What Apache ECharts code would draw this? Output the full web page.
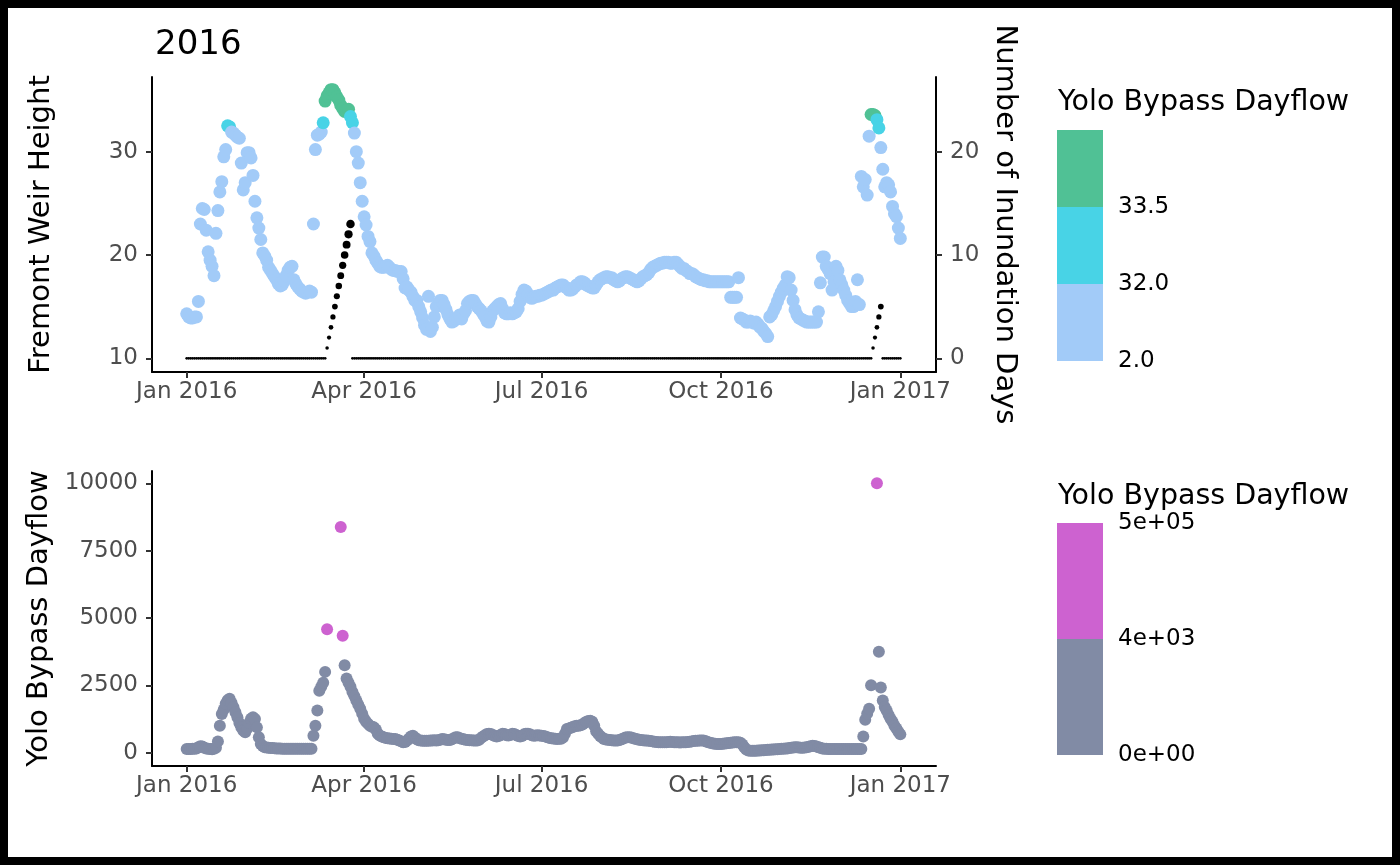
<!DOCTYPE html>
<html>
<head>
<meta charset="utf-8">
<script src="https://cdn.jsdelivr.net/npm/echarts@6/dist/echarts.min.js"></script>
<style>
  html, body { margin: 0; padding: 0; background: #fff; }
  #chart { width: 1400px; height: 865px; }
</style>
</head>
<body>
<div id="chart"></div>
<script>
// daily values from 1 Jan 2016 to 1 Jan 2017 (one row per month)
var firstDay = '2016-01-01';

var weirHeight = [
  14.3, 14.0, 13.9, 13.9, 14.0, 14.0, 15.5, 23.0, 24.5, 24.4, 22.4, 20.3, 19.5, 18.9, 18.0, 22.1, 24.3, 26.1, 27.1, 29.5, 30.2, 32.5, 32.4, 31.9, 31.8, 31.6, 31.4, 31.3, 28.9, 26.3, 27.0,
  29.9, 29.9, 29.4, 27.7, 25.2, 23.6, 22.6, 21.5, 20.2, 19.9, 19.5, 18.8, 18.5, 18.2, 17.9, 17.6, 17.2, 17.0, 17.1, 17.5, 18.0, 18.5, 18.8, 18.9, 17.6, 17.2, 16.9, 16.7, 16.5,
  16.4, 16.3, 16.4, 16.5, 16.4, 23.0, 30.2, 31.6, 31.7, 31.9, 32.8, 34.9, 35.4, 35.7, 36.0, 36.0, 35.7, 35.3, 35.0, 34.5, 34.2, 33.9, 34.0, 34.1, 33.4, 32.8, 31.8, 30.0, 28.9, 27.0, 25.2,
  23.7, 22.9, 21.8, 21.3, 20.2, 19.9, 19.5, 19.2, 18.9, 18.8, 18.8, 18.9, 19.0, 18.8, 18.6, 18.5, 18.5, 18.4, 18.4, 18.4, 17.7, 16.8, 16.9, 16.6, 16.4, 16.0, 15.6, 15.6, 15.0, 14.5,
  13.9, 13.2, 12.8, 16.0, 12.6, 13.0, 14.0, 15.0, 15.3, 15.6, 15.6, 15.2, 14.7, 14.2, 13.8, 13.5, 13.6, 13.8, 13.9, 14.2, 13.8, 14.3, 14.6, 15.3, 15.5, 15.6, 15.6, 15.3, 15.0, 14.8, 14.6,
  14.3, 14.0, 13.6, 13.5, 14.0, 14.6, 14.8, 15.0, 15.2, 15.3, 14.8, 14.4, 14.3, 14.3, 14.4, 14.3, 14.4, 14.5, 14.8, 15.5, 16.2, 16.6, 16.5, 16.2, 15.9, 15.8, 15.9, 16.0, 16.0, 16.1,
  16.1, 16.2, 16.3, 16.4, 16.5, 16.6, 16.6, 16.8, 16.9, 17.0, 17.1, 17.1, 16.9, 16.8, 16.6, 16.6, 16.7, 16.9, 17.1, 17.2, 17.4, 17.4, 17.3, 17.1, 17.0, 16.9, 16.8, 16.8, 17.1, 17.4, 17.6,
  17.7, 17.8, 17.9, 17.9, 17.8, 17.8, 17.6, 17.5, 17.4, 17.5, 17.7, 17.8, 17.9, 17.9, 17.8, 17.7, 17.6, 17.5, 17.4, 17.5, 17.7, 17.9, 18.0, 18.1, 18.3, 18.6, 18.8, 18.9, 19.0, 19.1, 19.2,
  19.2, 19.3, 19.3, 19.3, 19.2, 19.2, 19.3, 19.3, 19.1, 18.9, 18.7, 18.7, 18.5, 18.4, 18.2, 18.2, 18.1, 17.9, 17.8, 17.7, 17.6, 17.6, 17.5, 17.5, 17.4, 17.4, 17.4, 17.4, 17.4, 17.4,
  17.4, 17.4, 17.4, 17.4, 17.4, 15.9, 15.9, 15.9, 15.9, 17.8, 13.9, 13.8, 13.7, 13.5, 13.5, 13.6, 13.5, 13.4, 13.5, 13.3, 13.0, 12.9, 12.6, 12.4, 12.1, 14.0, 14.2, 14.6, 15.0, 15.5, 16.0,
  16.4, 16.8, 17.1, 17.9, 17.8, 16.6, 15.6, 14.7, 14.2, 13.9, 13.8, 13.7, 13.6, 13.5, 13.5, 13.5, 13.5, 13.5, 13.5, 14.5, 17.3, 19.8, 19.8, 18.9, 18.6, 18.2, 16.6, 17.4, 18.9, 18.5,
  17.6, 17.1, 16.6, 16.1, 15.6, 15.3, 15.0, 15.0, 15.5, 17.6, 15.2, 27.6, 26.6, 27.3, 25.8, 31.5, 33.6, 33.6, 33.5, 33.1, 32.3, 30.4, 28.3, 26.6, 27.0, 26.8, 26.1, 24.7, 24.0, 23.7, 22.6,
  21.6
];

var inundationDays = [
  0,0,0,0,0,0,0,0,0,0, 0,0,0,0,0,0,0,0,0,0, 0,0,0,0,0,0,0,0,0,0, 0,
  0,0,0,0,0,0,0,0,0,0, 0,0,0,0,0,0,0,0,0,0, 0,0,0,0,0,0,0,0,0,
  0,0,0,0,0,0,0,0,0,0, 0,0, 1,2,3,4,5,6,7,8,9,10,11,12,13, 0,0,0,0,0,0,
  0,0,0,0,0,0,0,0,0,0, 0,0,0,0,0,0,0,0,0,0, 0,0,0,0,0,0,0,0,0,0,
  0,0,0,0,0,0,0,0,0,0, 0,0,0,0,0,0,0,0,0,0, 0,0,0,0,0,0,0,0,0,0, 0,
  0,0,0,0,0,0,0,0,0,0, 0,0,0,0,0,0,0,0,0,0, 0,0,0,0,0,0,0,0,0,0,
  0,0,0,0,0,0,0,0,0,0, 0,0,0,0,0,0,0,0,0,0, 0,0,0,0,0,0,0,0,0,0, 0,
  0,0,0,0,0,0,0,0,0,0, 0,0,0,0,0,0,0,0,0,0, 0,0,0,0,0,0,0,0,0,0, 0,
  0,0,0,0,0,0,0,0,0,0, 0,0,0,0,0,0,0,0,0,0, 0,0,0,0,0,0,0,0,0,0,
  0,0,0,0,0,0,0,0,0,0, 0,0,0,0,0,0,0,0,0,0, 0,0,0,0,0,0,0,0,0,0, 0,
  0,0,0,0,0,0,0,0,0,0, 0,0,0,0,0,0,0,0,0,0, 0,0,0,0,0,0,0,0,0,0,
  0,0,0,0,0,0,0,0,0,0, 0,0,0,0,0,0,0, 1,2,3,4,5, 0,0,0,0,0,0,0,0,0,
  0
];

var yoloDayflow = [
  140, 140, 140, 145, 150, 160, 200, 240, 230, 180, 160, 150, 140, 130, 150, 180, 420, 1000, 1440, 1600, 1820, 1950, 2000, 1850, 1690, 1500, 1320, 1100, 940, 820, 760,
  900, 1100, 1260, 1320, 1250, 940, 570, 320, 250, 200, 190, 180, 175, 170, 165, 160, 160, 155, 150, 150, 150, 150, 150, 150, 150, 145, 145, 145, 145,
  145, 145, 145, 145, 150, 630, 1000, 1570, 2300, 2450, 2600, 3000, 4580, null, null, null, null, null, null, 8380, 4340, 3250, 2750, 2600, 2450, 2250, 2100, 1940, 1780, 1630, 1450,
  1260, 1150, 1070, 1000, 960, 940, 860, 700, 640, 600, 570, 550, 540, 530, 520, 510, 510, 480, 450, 420, 385, 400, 450, 520, 600, 630, 560, 500, 460, 450,
  440, 440, 440, 440, 450, 450, 460, 450, 460, 480, 510, 500, 480, 470, 470, 500, 540, 570, 570, 540, 520, 500, 480, 470, 460, 460, 450, 450, 450, 480, 550,
  600, 650, 690, 700, 690, 660, 620, 600, 620, 660, 700, 690, 650, 640, 660, 700, 690, 660, 620, 600, 620, 680, 700, 700, 680, 650, 630, 640, 650, 640,
  630, 620, 600, 570, 550, 540, 530, 520, 510, 520, 520, 560, 700, 880, 900, 930, 950, 980, 1000, 1000, 1020, 1050, 1100, 1150, 1180, 1190, 1150, 1000, 800, 700, 620,
  560, 510, 490, 480, 470, 460, 450, 450, 450, 470, 500, 530, 560, 570, 570, 560, 540, 520, 500, 480, 470, 460, 450, 450, 440, 430, 420, 410, 400, 390, 390,
  385, 385, 390, 400, 410, 400, 390, 385, 385, 380, 385, 385, 390, 400, 410, 420, 430, 440, 440, 450, 450, 450, 430, 400, 380, 360, 340, 330, 320, 320,
  320, 330, 340, 350, 360, 370, 380, 385, 385, 385, 370, 300, 200, 120, 80, 75, 75, 75, 75, 80, 85, 90, 95, 100, 105, 110, 115, 120, 125, 130, 140,
  145, 150, 155, 160, 170, 180, 190, 200, 200, 190, 180, 180, 190, 200, 220, 240, 260, 250, 230, 200, 180, 160, 150, 145, 140, 140, 140, 140, 140, 140,
  140, 140, 140, 140, 140, 140, 140, 140, 140, 140, 140, 140, 600, 1220, 1450, 1630, 2500, null, null, 10000, 3750, 2420, 1940, 1700, 1570, 1400, 1260, 1150, 1000, 900, 780,
  680
];

var xTickDates = ['2016-01-01', '2016-04-01', '2016-07-01', '2016-10-01', '2017-01-01'];
var xTickLabels = ['Jan 2016', 'Apr 2016', 'Jul 2016', 'Oct 2016', 'Jan 2017'];
var heightTicks = [10, 20, 30];
var inundationTicks = [0, 10, 20];
var flowTicks = [0, 2500, 5000, 7500, 10000];

var heightBreaks = [32, 33.5];
var heightColors = ['#A2CBF8', '#48D3E6', '#50C195'];
var heightLegendLabels = ['2.0', '32.0', '33.5'];
var flowBreak = 4000;
var flowColors = ['#818BA5', '#CD62D0'];
var flowLegendLabels = ['0e+00', '4e+03', '5e+05'];

var DAY = 24 * 3600 * 1000;
var FONT = 'DejaVu Sans';

function parseDay(s, offset) {
  var p = s.split('-');
  return new Date(+p[0], +p[1] - 1, +p[2] + (offset || 0)).getTime();
}

function toPoints(values) {
  var out = [];
  values.forEach(function(v, i) {
    if (v !== null) out.push([parseDay(firstDay, i), v]);
  });
  return out;
}

var xTicks = xTickDates.map(function(d) { return parseDay(d); });
var xMin = xTicks[0] - 17.8 * DAY;
var xMax = xTicks[xTicks.length - 1] + 18.3 * DAY;

var chart = echarts.init(document.getElementById('chart'), null, { renderer: 'canvas' });

// dates are plain millisecond numbers on a value axis, labelled at the tick dates
function dateAxis(gridIndex) {
  return {
    type: 'value',
    gridIndex: gridIndex,
    min: xMin,
    max: xMax,
    scale: true,
    splitLine: { show: false },
    axisLine: { show: true, onZero: false, lineStyle: { color: '#000', width: 2 } },
    axisTick: { show: true, length: 6, customValues: xTicks, lineStyle: { color: '#333', width: 2 } },
    axisLabel: {
      color: '#4D4D4D', fontSize: 23, fontFamily: FONT, margin: 9,
      customValues: xTicks,
      formatter: function(value) {
        var i = xTicks.indexOf(value);
        return i >= 0 ? xTickLabels[i] : '';
      }
    }
  };
}

function valueAxis(gridIndex, min, max, ticks, name, nameGap, position) {
  return {
    type: 'value',
    gridIndex: gridIndex,
    position: position,
    min: min,
    max: max,
    name: name,
    nameLocation: 'middle',
    nameGap: nameGap,
    nameRotate: position === 'right' ? -90 : 90,
    nameTextStyle: { fontSize: 29, color: '#000', fontFamily: FONT },
    splitLine: { show: false },
    axisLine: { show: true, onZero: false, lineStyle: { color: '#000', width: 2 } },
    axisTick: { show: true, length: 6, customValues: ticks, lineStyle: { color: '#333', width: 2 } },
    axisLabel: {
      color: '#4D4D4D', fontSize: 23, fontFamily: FONT, margin: 14, customValues: ticks,
      formatter: function(v) { return String(v); }
    }
  };
}

// stepped colour bar: colours bottom to top, labels on the joins from the bottom edge up
function colourBar(title, titleY, barTop, barHeight, colors, labels, labelStep) {
  var els = [];
  var seg = barHeight / colors.length;
  els.push({
    type: 'text', x: 1058, y: titleY,
    style: { text: title, fontSize: 28.5, fontFamily: FONT, fill: '#000', verticalAlign: 'middle' }
  });
  colors.forEach(function(c, i) {
    els.push({
      type: 'rect',
      shape: { x: 1057, y: barTop + barHeight - (i + 1) * seg, width: 46, height: seg },
      style: { fill: c }
    });
  });
  labels.forEach(function(l, i) {
    els.push({
      type: 'text', x: 1118, y: barTop + barHeight - i * labelStep,
      style: { text: l, fontSize: 23, fontFamily: FONT, fill: '#000', verticalAlign: 'middle' }
    });
  });
  return els;
}

var option = {
  animation: false,
  backgroundColor: '#fff',
  textStyle: { fontFamily: FONT },
  title: {
    text: '2016', left: 150, top: 23,
    textStyle: { fontSize: 34, fontWeight: 'normal', color: '#000', fontFamily: FONT }
  },
  grid: [
    { left: 152, right: 464, top: 77, height: 295 },
    { left: 152, right: 464, top: 471, height: 295 }
  ],
  xAxis: [dateAxis(0), dateAxis(1)],
  yAxis: [
    valueAxis(0, 8.67, 37.23, heightTicks, 'Fremont Weir Height', 96, 'left'),
    valueAxis(0, -1.33, 27.23, inundationTicks, 'Number of Inundation Days', 50, 'right'),
    valueAxis(1, -494, 10457, flowTicks, 'Yolo Bypass Dayflow', 96, 'left')
  ],
  visualMap: [
    {
      type: 'piecewise', show: false, seriesIndex: 0, dimension: 1,
      pieces: [
        { lt: heightBreaks[0], color: heightColors[0] },
        { gte: heightBreaks[0], lt: heightBreaks[1], color: heightColors[1] },
        { gte: heightBreaks[1], color: heightColors[2] }
      ]
    },
    {
      type: 'piecewise', show: false, seriesIndex: 2, dimension: 1,
      pieces: [
        { lt: flowBreak, color: flowColors[0] },
        { gte: flowBreak, color: flowColors[1] }
      ]
    }
  ],
  series: [
    {
      type: 'scatter', xAxisIndex: 0, yAxisIndex: 0,
      symbolSize: 13,
      itemStyle: { opacity: 1 },
      data: toPoints(weirHeight)
    },
    {
      type: 'scatter', xAxisIndex: 0, yAxisIndex: 1,
      symbolSize: function(v) { return Math.sqrt(7.5 + v[1] * 5); },
      itemStyle: { color: '#000', opacity: 1 },
      data: toPoints(inundationDays)
    },
    {
      type: 'scatter', xAxisIndex: 1, yAxisIndex: 2,
      symbolSize: 12,
      itemStyle: { opacity: 1 },
      data: toPoints(yoloDayflow)
    }
  ],
  graphic: colourBar('Yolo Bypass Dayflow', 103, 130, 231, heightColors, heightLegendLabels, 77).concat(
    colourBar('Yolo Bypass Dayflow', 497, 523, 232, flowColors, flowLegendLabels, 116),
    [{
      type: 'rect', silent: true, z: 100,
      shape: { x: 4, y: 4, width: 1392, height: 857 },
      style: { fill: null, stroke: '#000', lineWidth: 8 }
    }]
  )
};

chart.setOption(option);
window.addEventListener('resize', chart.resize);
</script>
</body>
</html>
